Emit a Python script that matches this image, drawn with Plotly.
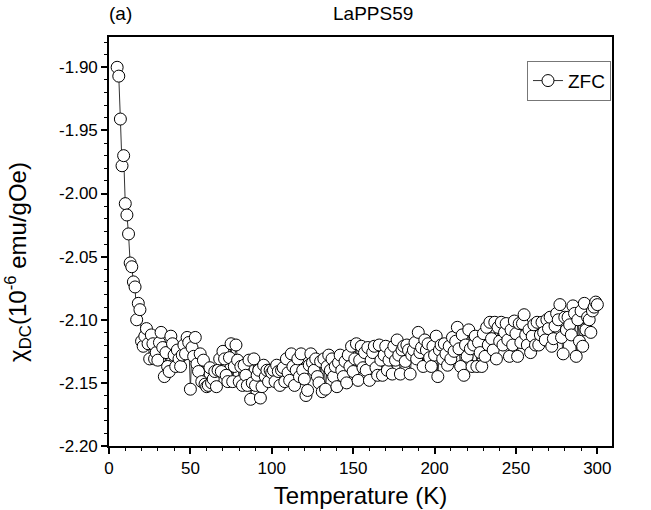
import plotly.graph_objects as go

temperature = [
    5, 6, 7, 8, 9, 10, 11, 12, 13, 14, 15, 16, 17, 18, 19, 20, 21, 22, 23, 24, 25,
    26, 27, 28, 29, 30, 31, 32, 33, 34, 35, 36, 37, 38, 39, 40, 41, 42, 43, 44, 45,
    46, 47, 48, 49, 50, 51, 52, 53, 54, 55, 56, 57, 58, 59, 60,
    61, 62, 63, 64, 65, 66, 67, 68, 69, 70, 71, 72, 73, 74, 75, 76, 77, 78, 79, 80,
    81, 82, 83, 84, 85, 86, 87, 88, 89, 90, 91, 92, 93, 94, 95, 96, 97, 98, 99, 100,
    101, 102, 103, 104, 105, 106, 107, 108, 109, 110, 111, 112, 113, 114, 115, 116, 117, 118, 119, 120,
    121, 122, 123, 124, 125, 126, 127, 128, 129, 130, 131, 132, 133, 134, 135, 136, 137, 138, 139, 140,
    141, 142, 143, 144, 145, 146, 147, 148, 149, 150, 151, 152, 153, 154, 155, 156, 157, 158, 159, 160,
    161, 162, 163, 164, 165, 166, 167, 168, 169, 170, 171, 172, 173, 174, 175, 176, 177, 178, 179, 180,
    181, 182, 183, 184, 185, 186, 187, 188, 189, 190, 191, 192, 193, 194, 195, 196, 197, 198, 199, 200,
    201, 202, 203, 204, 205, 206, 207, 208, 209, 210, 211, 212, 213, 214, 215, 216, 217, 218, 219, 220,
    221, 222, 223, 224, 225, 226, 227, 228, 229, 230, 231, 232, 233, 234, 235, 236, 237, 238, 239, 240,
    241, 242, 243, 244, 245, 246, 247, 248, 249, 250, 251, 252, 253, 254, 255, 256, 257, 258, 259, 260,
    261, 262, 263, 264, 265, 266, 267, 268, 269, 270, 271, 272, 273, 274, 275, 276, 277, 278, 279, 280,
    281, 282, 283, 284, 285, 286, 287, 288, 289, 290, 291, 292, 293, 294, 295, 296, 297, 298, 299, 300,
]

chi_zfc = [
    -1.900, -1.907, -1.941, -1.978, -1.970, -2.008, -2.017, -2.032, -2.055, -2.058,
    -2.070, -2.074, -2.100, -2.087, -2.092, -2.117, -2.121, -2.113, -2.107, -2.119, -2.131,
    -2.112, -2.119, -2.131, -2.126, -2.132, -2.118, -2.110, -2.122, -2.145, -2.126,
    -2.137, -2.141, -2.113, -2.119, -2.128, -2.137, -2.124, -2.131, -2.137, -2.128,
    -2.120, -2.127, -2.114, -2.118, -2.155, -2.122, -2.129, -2.114, -2.135, -2.141,
    -2.127, -2.149, -2.132, -2.151, -2.153,
    -2.152, -2.138, -2.150, -2.147, -2.141, -2.153, -2.140, -2.131, -2.141, -2.125,
    -2.131, -2.144, -2.149, -2.130, -2.119, -2.149, -2.137, -2.120, -2.132, -2.149,
    -2.137, -2.152, -2.136, -2.144, -2.152, -2.132, -2.163, -2.150, -2.131, -2.152,
    -2.144, -2.140, -2.162, -2.153, -2.136, -2.145, -2.140, -2.149, -2.140, -2.142,
    -2.140, -2.149, -2.136, -2.141, -2.152, -2.140, -2.138, -2.149, -2.131, -2.142,
    -2.148, -2.127, -2.137, -2.152, -2.140, -2.131, -2.145, -2.127, -2.140, -2.147,
    -2.160, -2.156, -2.136, -2.127, -2.134, -2.140, -2.131, -2.145, -2.150, -2.133,
    -2.157, -2.131, -2.155, -2.137, -2.128, -2.140, -2.131, -2.145, -2.137, -2.153,
    -2.134, -2.128, -2.140, -2.145, -2.133, -2.150, -2.128, -2.137, -2.121, -2.141,
    -2.131, -2.119, -2.148, -2.132, -2.121, -2.138, -2.126, -2.140, -2.122, -2.148,
    -2.132, -2.126, -2.121, -2.138, -2.144, -2.120, -2.132, -2.144, -2.128, -2.121,
    -2.140, -2.132, -2.126, -2.143, -2.121, -2.132, -2.116, -2.128, -2.143, -2.124,
    -2.121, -2.133, -2.120, -2.124, -2.143, -2.128, -2.124, -2.118, -2.131, -2.110,
    -2.126, -2.122, -2.137, -2.116, -2.124, -2.119, -2.130, -2.137, -2.121, -2.128,
    -2.113, -2.145, -2.124, -2.120, -2.131, -2.119, -2.127, -2.136, -2.121, -2.131,
    -2.114, -2.125, -2.117, -2.106, -2.123, -2.137, -2.112, -2.144, -2.120, -2.129,
    -2.108, -2.123, -2.137, -2.120, -2.113, -2.137, -2.118, -2.126, -2.137, -2.111,
    -2.129, -2.106, -2.120, -2.102, -2.115, -2.124, -2.102, -2.131, -2.106, -2.117,
    -2.102, -2.120, -2.110, -2.103, -2.116, -2.129, -2.108, -2.120, -2.101, -2.111,
    -2.129, -2.103, -2.118, -2.103, -2.096, -2.112, -2.120, -2.108, -2.126, -2.113,
    -2.104, -2.120, -2.102, -2.120, -2.112, -2.102, -2.110, -2.116, -2.100, -2.107,
    -2.098, -2.121, -2.115, -2.105, -2.095, -2.100, -2.088, -2.114, -2.127, -2.098,
    -2.108, -2.098, -2.104, -2.112, -2.089, -2.095, -2.129, -2.100, -2.117, -2.093,
    -2.121, -2.087, -2.108, -2.098, -2.100, -2.110, -2.093, -2.090, -2.086, -2.088,
]

x_ticks = [0, 50, 100, 150, 200, 250, 300]
y_ticks = [-2.20, -2.15, -2.10, -2.05, -2.00, -1.95, -1.90]

FONT = "Liberation Sans, Arial, sans-serif"

fig = go.Figure()
fig.add_trace(go.Scatter(
    x=temperature, y=chi_zfc, mode="lines+markers", name="ZFC",
    line=dict(color="#333333", width=1),
    marker=dict(symbol="circle", size=12, color="white",
                line=dict(color="black", width=1)),
))

axis_common = dict(
    showline=True, linecolor="black", linewidth=1.6, mirror=True,
    ticks="outside", ticklen=6, tickwidth=1.6, tickcolor="black",
    showgrid=False, zeroline=False, automargin=False,
    tickfont=dict(family=FONT, size=17, color="black"),
)

fig.update_layout(
    width=651, height=510,
    margin=dict(l=109, r=39, t=37, b=64),
    paper_bgcolor="white", plot_bgcolor="white",
    font=dict(family=FONT, color="black"),
    showlegend=True,
    legend=dict(x=0.998, xanchor="right", y=0.942, yanchor="top",
                bordercolor="#777777", borderwidth=1, bgcolor="white",
                font=dict(family=FONT, size=19, color="black"),
                itemwidth=30, tracegroupgap=0),
    xaxis=dict(range=[0, 309], tickvals=x_ticks,
               ticktext=[str(v) for v in x_ticks],
               minor=dict(ticks="outside", dtick=10, ticklen=3, tickcolor="black", tickwidth=1.2),
               title=dict(text="Temperature (K)", font=dict(family=FONT, size=24), standoff=10),
               **axis_common),
    yaxis=dict(range=[-2.20, -1.876], tickvals=y_ticks,
               ticktext=[f"{v:.2f}" for v in y_ticks],
               minor=dict(ticks="outside", dtick=0.01, ticklen=3, tickcolor="black", tickwidth=1.2),
               **axis_common),
    annotations=[
        dict(text="LaPPS59", x=0.525, y=1.058, xref="paper", yref="paper",
             xanchor="center", yanchor="middle", showarrow=False,
             font=dict(family=FONT, size=19, color="black")),
        dict(text="(a)", x=0.022, y=1.058, xref="paper", yref="paper",
             xanchor="center", yanchor="middle", showarrow=False,
             font=dict(family=FONT, size=19, color="black")),
        dict(text="χ<sub>DC</sub>(10<sup>-6</sup> emu/gOe)", x=-0.181, y=0.45,
             xref="paper", yref="paper", xanchor="center", yanchor="middle",
             textangle=-90, showarrow=False,
             font=dict(family=FONT, size=24, color="black")),
    ],
)

fig.write_html("out.html", config={"displayModeBar": False},
               post_script="document.body.style.margin='0';document.body.style.overflow='hidden';")
